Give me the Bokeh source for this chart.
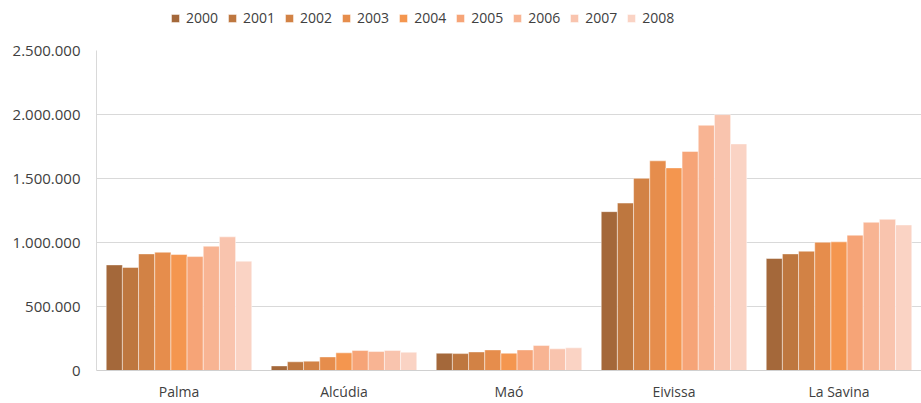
from bokeh.plotting import figure
from bokeh.models import ColumnDataSource, Legend, LegendItem, FixedTicker, FactorRange
from bokeh.layouts import column
from bokeh.transform import dodge
from bokeh.embed import file_html
from bokeh.resources import INLINE

cities = ["Palma", "Alcúdia", "Maó", "Eivissa", "La Savina"]
years = ["2000", "2001", "2002", "2003", "2004", "2005", "2006", "2007", "2008"]

v2000 = [825000, 36000, 135000, 1241000, 875000]
v2001 = [805000, 68000, 132000, 1308000, 911000]
v2002 = [911000, 73000, 145000, 1501000, 932000]
v2003 = [924000, 106000, 161000, 1638000, 1002000]
v2004 = [906000, 138000, 135000, 1583000, 1005000]
v2005 = [890000, 156000, 161000, 1711000, 1057000]
v2006 = [971000, 148000, 195000, 1916000, 1158000]
v2007 = [1044000, 156000, 169000, 1999000, 1181000]
v2008 = [854000, 143000, 177000, 1770000, 1137000]
series = [v2000, v2001, v2002, v2003, v2004, v2005, v2006, v2007, v2008]

colors = ["#A4683A", "#BE773F", "#D28245", "#E68D4C", "#F4964F",
          "#F6A477", "#F8B493", "#F9C4AE", "#FAD3C4"]

y_ticks = [0, 500000, 1000000, 1500000, 2000000, 2500000]
y_tick_labels = ["0", "500.000", "1.000.000", "1.500.000", "2.000.000", "2.500.000"]

data = {"city": cities}
for y, s in zip(years, series):
    data["y" + y] = s
source = ColumnDataSource(data)

FONT = "Open Sans"
TXT = "#404040"

LEG_H = 36

# legend strip
lf = figure(width=921, height=LEG_H, x_range=(0, 1), y_range=(0, 1),
            output_backend="svg", toolbar_location=None,
            min_border_left=0, min_border_right=0, min_border_top=0, min_border_bottom=0)
lf.axis.visible = False
lf.grid.visible = False
lf.outline_line_color = None

# main chart
p = figure(width=921, height=403 - LEG_H, x_range=FactorRange(factors=cities, range_padding=0),
           y_range=(0, 2500000), output_backend="svg", toolbar_location=None,
           min_border_left=96, min_border_right=0, min_border_bottom=10, min_border_top=14)

bw = 0.098
items = []
for i, (y, c) in enumerate(zip(years, colors)):
    p.vbar(x=dodge("city", (i - 4) * bw, range=p.x_range), top="y" + y, width=bw,
           source=source, fill_color=c, line_color="white", line_alpha=0.45, line_width=1)
    lr = lf.vbar(x="city", top="y" + y, width=0, source=source, fill_color=c,
                 line_color="white", line_alpha=0.45, line_width=1)
    items.append(LegendItem(label=y, renderers=[lr]))

legend = Legend(items=items, orientation="horizontal", location=(74, 9),
                label_text_font=FONT, label_text_font_size="14px", label_text_color=TXT,
                glyph_width=10, glyph_height=10, label_standoff=6, spacing=9,
                border_line_color=None, background_fill_alpha=0, padding=4, margin=0)
lf.add_layout(legend)

p.outline_line_color = None
p.xgrid.grid_line_color = None
p.ygrid.grid_line_color = "#d9d9d9"
p.ygrid.grid_line_width = 1

p.yaxis.ticker = FixedTicker(ticks=y_ticks)
p.yaxis.major_label_overrides = {t: l for t, l in zip(y_ticks, y_tick_labels)}
p.yaxis.axis_line_color = "#d9d9d9"
p.yaxis.major_tick_line_color = None
p.yaxis.minor_tick_line_color = None
p.yaxis.major_label_text_font = FONT
p.yaxis.major_label_text_font_size = "15px"
p.yaxis.major_label_text_color = TXT
p.yaxis.major_label_standoff = 10

p.xaxis.axis_line_color = "#d0d0d0"
p.xaxis.major_tick_line_color = None
p.xaxis.minor_tick_line_color = None
p.xaxis.major_label_text_font = FONT
p.xaxis.major_label_text_font_size = "14px"
p.xaxis.major_label_text_color = TXT
p.xaxis.major_label_standoff = 5

layout = column(lf, p, spacing=0)
open("out.html", "w").write(file_html(layout, INLINE))
